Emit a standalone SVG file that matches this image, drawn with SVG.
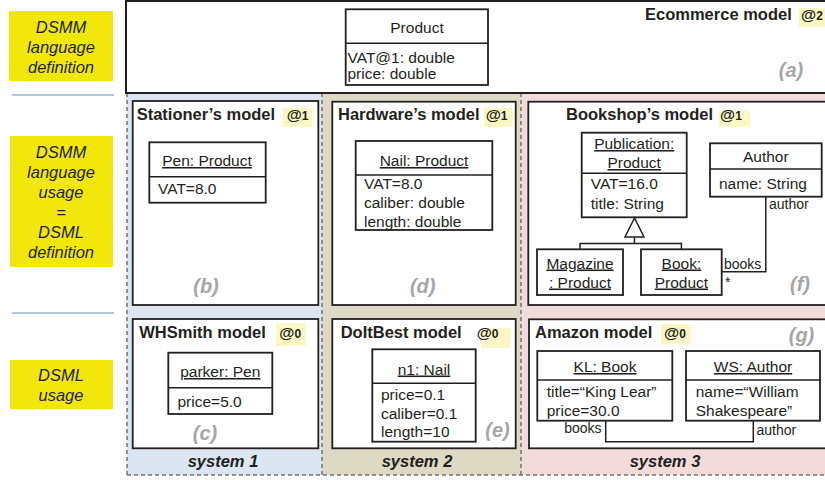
<svg xmlns="http://www.w3.org/2000/svg" width="825" height="480" viewBox="0 0 825 480">
  <style>
    text { font-family: "Liberation Sans", Arial, sans-serif; fill: #231f20; }
    .lbl { font-size: 16.5px; font-style: italic; text-anchor: middle; }
    .title { font-size: 16.5px; font-weight: bold; }
    .at { font-size: 15.5px; font-weight: bold; }
    .atn { font-size: 12px; }
    .t { font-size: 15.5px; }
    .c { text-anchor: middle; }
    .u { text-decoration: underline; }
    .tag { font-size: 20px; font-weight: bold; font-style: italic; fill: #a6a6a6; text-anchor: middle; }
    .sys { font-size: 16.5px; font-weight: bold; font-style: italic; text-anchor: middle; }
    .small { font-size: 14px; }
    .box { fill: #ffffff; stroke: #231f20; stroke-width: 1.8; }
    .model { fill: #ffffff; stroke: #231f20; stroke-width: 1.8; }
    .hl { fill: #fbf7c4; }
    .yel { fill: #f2e70b; }
    .sep { stroke: #95b3d7; stroke-width: 1.5; }
    .dash { stroke: #737373; stroke-width: 1.5; stroke-dasharray: 4 3; fill: none; }
    .wire { fill: none; stroke: #231f20; stroke-width: 1.5; }
  </style>

  <!-- level labels -->
  <g id="level-labels">
    <rect class="yel" x="9" y="11" width="104" height="70"/>
    <text class="lbl" x="61" y="33">DSMM</text>
    <text class="lbl" x="61" y="53">language</text>
    <text class="lbl" x="61" y="73">definition</text>
    <line class="sep" x1="12" y1="95" x2="114" y2="95"/>
    <rect class="yel" x="10" y="136" width="103" height="131"/>
    <text class="lbl" x="61" y="158">DSMM</text>
    <text class="lbl" x="61" y="178">language</text>
    <text class="lbl" x="61" y="198">usage</text>
    <text class="lbl" x="61" y="218">=</text>
    <text class="lbl" x="61" y="238">DSML</text>
    <text class="lbl" x="61" y="258">definition</text>
    <line class="sep" x1="12" y1="313" x2="114" y2="313"/>
    <rect class="yel" x="10" y="360" width="103" height="49"/>
    <text class="lbl" x="61" y="381">DSML</text>
    <text class="lbl" x="61" y="401">usage</text>
  </g>

  <!-- system columns -->
  <g id="systems">
    <rect x="127" y="93" width="195" height="382" fill="#dce6f2"/>
    <rect x="322" y="93" width="199" height="382" fill="#ddd9c4"/>
    <rect x="521" y="93" width="304" height="382" fill="#f2dcdb"/>
    <line class="dash" x1="127" y1="93" x2="127" y2="475"/>
    <line class="dash" x1="322" y1="93" x2="322" y2="475"/>
    <line class="dash" x1="521" y1="93" x2="521" y2="475"/>
    <line class="dash" x1="127" y1="475" x2="825" y2="475"/>
    <text class="sys" x="223" y="467">system 1</text>
    <text class="sys" x="417" y="467">system 2</text>
    <text class="sys" x="665" y="467">system 3</text>
  </g>

  <!-- (a) Ecommerce model -->
  <g id="ecommerce-model">
    <rect x="126" y="1" width="710" height="92" fill="#ffffff" stroke="#231f20" stroke-width="2"/>
    <rect class="hl" x="799" y="8" width="30" height="19"/>
    <text class="title" x="645" y="20">Ecommerce model</text>
    <text class="at" x="801" y="20">@<tspan class="atn">2</tspan></text>
    <text class="tag" x="791" y="77">(a)</text>
  </g>
  <g id="product">
    <rect class="box" x="345.7" y="9.3" width="142.3" height="75.7"/>
    <line class="wire" x1="345.7" y1="43.3" x2="488" y2="43.3"/>
    <text class="t c" x="417" y="32.5">Product</text>
    <text class="t" x="347.5" y="63">VAT@1: double</text>
    <text class="t" x="347.5" y="78.5">price: double</text>
  </g>

  <!-- (b) Stationer's model -->
  <g id="stationers-model">
    <rect class="model" x="132.7" y="101" width="185.6" height="204"/>
    <rect class="hl" x="282.7" y="108" width="30" height="19"/>
    <text class="title" x="136.7" y="120">Stationer’s model</text>
    <text class="at" x="286.7" y="120">@<tspan class="atn">1</tspan></text>
    <text class="tag" x="206" y="293">(b)</text>
  </g>
  <g id="pen">
    <rect class="box" x="149.3" y="142.3" width="116.4" height="60.4"/>
    <line class="wire" x1="149.3" y1="176.7" x2="265.7" y2="176.7"/>
    <text class="t c u" x="207" y="166">Pen: Product</text>
    <text class="t" x="158" y="194">VAT=8.0</text>
  </g>

  <!-- (d) Hardware's model -->
  <g id="hardwares-model">
    <rect class="model" x="332.3" y="101.7" width="183.4" height="203.3"/>
    <rect class="hl" x="484" y="108" width="28.7" height="19"/>
    <text class="title" x="338" y="120">Hardware’s model</text>
    <text class="at" x="485.7" y="120">@<tspan class="atn">1</tspan></text>
    <text class="tag" x="422.7" y="293">(d)</text>
  </g>
  <g id="nail">
    <rect class="box" x="355.7" y="141" width="136.6" height="89"/>
    <line class="wire" x1="355.7" y1="175" x2="492.3" y2="175"/>
    <text class="t c u" x="424" y="166">Nail: Product</text>
    <text class="t" x="364" y="189">VAT=8.0</text>
    <text class="t" x="364" y="208">caliber: double</text>
    <text class="t" x="364" y="227">length: double</text>
  </g>

  <!-- (f) Bookshop's model -->
  <g id="bookshops-model">
    <rect class="model" x="528.3" y="101.7" width="310" height="203.3"/>
    <rect class="hl" x="719" y="110.7" width="31" height="16"/>
    <text class="title" x="566" y="120">Bookshop’s model</text>
    <text class="at" x="720" y="120">@<tspan class="atn">1</tspan></text>
    <text class="tag" x="800" y="291">(f)</text>
  </g>
  <g id="publication">
    <rect class="box" x="581.7" y="132.7" width="105" height="84.6"/>
    <line class="wire" x1="581.7" y1="173.3" x2="686.7" y2="173.3"/>
    <text class="t c u" x="634.2" y="149">Publication:</text>
    <text class="t c u" x="634.2" y="168">Product</text>
    <text class="t" x="590.7" y="189">VAT=16.0</text>
    <text class="t" x="590.7" y="208.5">title: String</text>
  </g>
  <g id="author">
    <rect class="box" x="710" y="143.3" width="111.7" height="53.4"/>
    <line class="wire" x1="710" y1="169" x2="821.7" y2="169"/>
    <text class="t c" x="765.8" y="162">Author</text>
    <text class="t" x="719" y="189">name: String</text>
  </g>
  <g id="magazine">
    <rect class="box" x="537" y="249.3" width="86" height="45.7"/>
    <text class="t c u" x="580" y="268.5">Magazine</text>
    <text class="t c u" x="580" y="287.5">: Product</text>
  </g>
  <g id="book">
    <rect class="box" x="641" y="249.3" width="80.7" height="45.7"/>
    <text class="t c u" x="681.4" y="268.5">Book:</text>
    <text class="t c u" x="681.4" y="287.5">Product</text>
  </g>

  <!-- (c) WHSmith model -->
  <g id="whsmith-model">
    <rect class="model" x="132.7" y="319" width="185.6" height="129.3"/>
    <rect class="hl" x="276" y="323.3" width="29.7" height="22.7"/>
    <text class="title" x="139.3" y="337.5">WHSmith model</text>
    <text class="at" x="279.3" y="337.5">@<tspan class="atn">0</tspan></text>
    <text class="tag" x="205" y="440">(c)</text>
  </g>
  <g id="parker">
    <rect class="box" x="168.3" y="352.7" width="104" height="61.3"/>
    <line class="wire" x1="168.3" y1="387.7" x2="272.3" y2="387.7"/>
    <text class="t c u" x="220.3" y="377">parker: Pen</text>
    <text class="t" x="177.5" y="406.5">price=5.0</text>
  </g>

  <!-- (e) DoItBest model -->
  <g id="doitbest-model">
    <rect class="model" x="332.3" y="319" width="183.4" height="129.3"/>
    <rect class="hl" x="481" y="328" width="29.7" height="20"/>
    <text class="title" x="340.7" y="337.5">DoItBest model</text>
    <text class="at" x="476.7" y="337.5">@<tspan class="atn">0</tspan></text>
    <text class="tag" x="497.5" y="437">(e)</text>
  </g>
  <g id="n1">
    <rect class="box" x="372.3" y="349.3" width="103.4" height="92.4"/>
    <line class="wire" x1="372.3" y1="383.3" x2="475.7" y2="383.3"/>
    <text class="t c u" x="424" y="374.5">n1: Nail</text>
    <text class="t" x="381" y="399.5">price=0.1</text>
    <text class="t" x="381" y="418.5">caliber=0.1</text>
    <text class="t" x="381" y="437">length=10</text>
  </g>

  <!-- (g) Amazon model -->
  <g id="amazon-model">
    <rect class="model" x="529" y="319.3" width="310" height="129"/>
    <rect class="hl" x="661" y="324" width="29.7" height="20.3"/>
    <text class="title" x="535" y="337.5">Amazon model</text>
    <text class="at" x="664" y="337.5">@<tspan class="atn">0</tspan></text>
    <text class="tag" x="801.5" y="342">(g)</text>
  </g>
  <g id="kl">
    <rect class="box" x="537.3" y="351" width="135" height="69.7"/>
    <line class="wire" x1="537.3" y1="380" x2="672.3" y2="380"/>
    <text class="t c u" x="605" y="372">KL: Book</text>
    <text class="t" x="546.7" y="397">title=“King Lear”</text>
    <text class="t" x="546.7" y="415.5">price=30.0</text>
  </g>
  <g id="ws">
    <rect class="box" x="686" y="351" width="134" height="69.7"/>
    <line class="wire" x1="686" y1="380" x2="820" y2="380"/>
    <text class="t c u" x="753" y="372">WS: Author</text>
    <text class="t" x="695.7" y="397">name=“William</text>
    <text class="t" x="695.7" y="415.5">Shakespeare”</text>
  </g>

  <!-- connectors -->
  <g id="connectors">
    <!-- generalisation: Magazine, Book -> Publication -->
    <polygon points="634.5,218 625,237 644,237" fill="#ffffff" stroke="#231f20" stroke-width="1.5"/>
    <polyline class="wire" points="634.5,237 634.5,243.5"/>
    <polyline class="wire" points="580,249.3 580,243.5 681.4,243.5 681.4,249.3"/>
    <!-- Book.author / Author.books association -->
    <polyline class="wire" points="765.8,196.7 765.8,271.7 721.7,271.7"/>
    <text class="small" x="769" y="208.5">author</text>
    <text class="small" x="724" y="268.5">books</text>
    <text class="small" x="725" y="287">*</text>
    <!-- KL -> WS link -->
    <polyline class="wire" points="605.7,420.7 605.7,441.7 753.3,441.7 753.3,420.7"/>
    <text class="small" x="601.5" y="433" text-anchor="end">books</text>
    <text class="small" x="756.5" y="434.5">author</text>
  </g>
</svg>
